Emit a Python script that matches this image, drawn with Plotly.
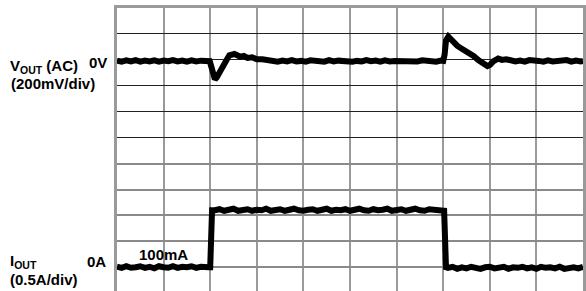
import plotly.graph_objects as go

# ---- time axis (µs, 100 µs/div, 10 div) ----
x_ticks = [0, 100, 200, 300, 400, 500, 600, 700, 800, 900, 1000]

# ---- V_OUT (AC), mV ----
vout_t = [0, 10, 20, 30, 40, 50, 60, 70, 80, 90, 100, 110, 120, 130, 140, 150, 160, 170, 180, 190, 196,
          199, 203, 207, 210, 214, 220, 226, 231, 236, 241, 247, 252, 258, 264, 272, 280, 290, 300, 312, 325,
          335, 345, 355, 365, 375, 385, 395, 405, 415, 425, 435, 445, 455, 465, 475, 485, 495, 505, 515,
          525, 535, 545, 555, 565, 575, 585, 595, 605, 615, 625, 635, 645, 655, 665, 675, 685, 695,
          700, 703, 706, 711, 716, 722, 730, 740, 754, 765, 776, 786, 795, 800, 808, 818, 826, 835,
          845, 855, 865, 875, 885, 895, 905, 915, 925, 935, 945, 955, 965, 975, 985, 995, 1000]
vout_mv = [-6, -14, -4, -12, -2, -14, -6, -12, -4, -14, -6, -10, -2, -12, -6, -14, -4, -12, -6, -10, -8,
           -10, -60, -125, -150, -135, -90, -60, -25, 5, 35, 40, 45, 35, 25, 30, 15, 20, 5, 5, -5,
           -4, -14, -6, -12, -2, -12, -8, -14, -4, -10, -6, -14, -2, -12, -6, -10, -4, -14, -8,
           -12, -2, -10, -6, -14, -4, -12, -8, -10, -2, -14, -6, -12, -4, -10, -8, -14, -6,
           -8, 40, 150, 180, 160, 127, 110, 85, 58, 30, -4, -30, -48, -40, -10, 10, 0, 5,
           -4, -12, -6, -14, -2, -10, -8, -14, -4, -12, -6, -10, -2, -14, -6, -12, -8]

# ---- I_OUT, A ----
iout_t = [0, 10, 20, 30, 40, 50, 60, 70, 80, 90, 100, 110, 120, 130, 140, 150, 160, 170, 180, 190, 196,
          200, 204,
          210, 220, 230, 240, 250, 260, 270, 280, 290, 300, 310, 320, 330, 340, 350, 360, 370, 380, 390,
          400, 410, 420, 430, 440, 450, 460, 470, 480, 490, 500, 510, 520, 530, 540, 550, 560, 570, 580,
          590, 600, 610, 620, 630, 640, 650, 660, 670, 680, 690, 698,
          702, 706,
          710, 720, 730, 740, 750, 760, 770, 780, 790, 800, 810, 820, 830, 840, 850, 860, 870, 880, 890,
          900, 910, 920, 930, 940, 950, 960, 970, 980, 990, 1000]
iout_a = [0.01, -0.01, 0.02, -0.01, 0.0, 0.02, -0.01, 0.01, -0.02, 0.02, 0.0, -0.01, 0.02, -0.01, 0.01,
          0.0, 0.02, -0.01, 0.01, 0.02, 0.0,
          0.0, 1.10,
          1.10, 1.12, 1.09, 1.11, 1.13, 1.09, 1.10, 1.12, 1.09, 1.11,
          1.10, 1.13, 1.09, 1.11, 1.12, 1.09, 1.10, 1.13, 1.10, 1.09,
          1.11, 1.12, 1.09, 1.10, 1.13, 1.09, 1.11, 1.10, 1.12, 1.09,
          1.11, 1.13, 1.10, 1.09, 1.12, 1.10, 1.11, 1.13, 1.09, 1.10,
          1.12, 1.09, 1.11, 1.13, 1.10, 1.09, 1.12, 1.11, 1.09, 1.10,
          1.09, 0.0,
          -0.01, 0.01, -0.03, 0.0, -0.02, 0.01, -0.01, -0.03, 0.0, 0.01,
          -0.02, -0.01, 0.01, -0.03, 0.0, -0.01, 0.01, -0.02, 0.0, -0.03,
          0.01, -0.01, 0.0, -0.02, 0.01, -0.03, -0.01, 0.0, -0.02, 0.01]

# ---- grid / scale settings ----
vout_div_mv = 200
iout_div_a = 0.5
vout_grid = [200, 0, -200, -400, -600]
iout_grid = [2.0, 1.5, 1.0, 0.5, 0.0]
n_div_visible = 283 / 25.93

fig = go.Figure()
fig.add_trace(go.Scatter(x=vout_t, y=vout_mv, mode="lines",
                         line=dict(color="black", width=6), yaxis="y", hoverinfo="skip"))
fig.add_trace(go.Scatter(x=iout_t, y=iout_a, mode="lines",
                         line=dict(color="black", width=6), yaxis="y2", hoverinfo="skip"))

FONT = dict(family="Arial, Liberation Sans, sans-serif", size=15, color="black", weight="bold")

def px_x(px):
    return (px - 117) / 468

def px_y(py):
    return (291 - py) / 283

annots = [
    dict(text="V<sub>OUT</sub> (AC)", x=px_x(8), y=px_y(66)),
    dict(text="0V", x=px_x(87), y=px_y(62)),
    dict(text="(200mV/div)", x=px_x(9), y=px_y(83)),
    dict(text="I<sub>OUT</sub>", x=px_x(8), y=px_y(261)),
    dict(text="0A", x=px_x(85), y=px_y(261)),
    dict(text="(0.5A/div)", x=px_x(8), y=px_y(279)),
]
for a in annots:
    fig.add_annotation(text=a["text"], x=a["x"], y=a["y"], xref="paper", yref="paper",
                       xanchor="left", yanchor="middle", showarrow=False, font=FONT)
fig.add_annotation(text="100mA", x=100, y=0.256, xref="x", yref="y2",
                   xanchor="center", yanchor="middle", showarrow=False, font=FONT)

fig.update_layout(
    width=586, height=291,
    margin=dict(l=117, r=1, t=8, b=0),
    plot_bgcolor="white", paper_bgcolor="white",
    showlegend=False,
    xaxis=dict(range=[0, 1000], tickvals=x_ticks, showgrid=True, gridcolor="#9a9a9a", gridwidth=2,
               showticklabels=False, ticks="", zeroline=False,
               side="top", showline=True, linecolor="#9a9a9a", linewidth=3, mirror=False),
    yaxis=dict(range=[400 - n_div_visible * vout_div_mv, 400], tickvals=vout_grid,
               showgrid=True, gridcolor="#222222", gridwidth=1,
               showticklabels=False, ticks="", zeroline=False,
               showline=True, linecolor="#9a9a9a", linewidth=3, mirror=True),
    yaxis2=dict(range=[5 - n_div_visible * iout_div_a, 5], tickvals=iout_grid, overlaying="y",
                showgrid=True, gridcolor="#8a8a8a", gridwidth=2,
                showticklabels=False, ticks="", zeroline=False, showline=False),
)

fig.write_html("out.html", config={"displayModeBar": False},
               post_script="document.body.style.margin='0';document.body.style.overflow='hidden';")
